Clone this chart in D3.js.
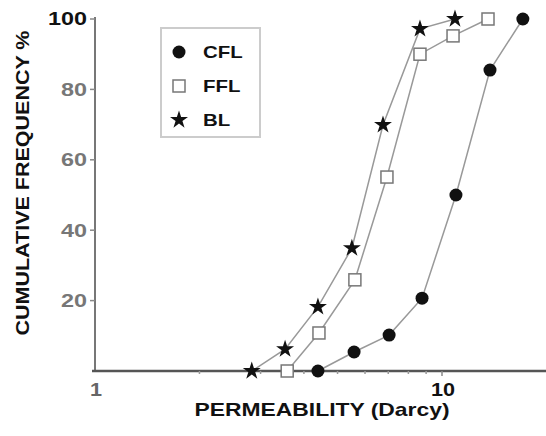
<!DOCTYPE html>
<html>
<head>
<meta charset="utf-8">
<script src="https://cdn.jsdelivr.net/npm/d3@7"></script>
<style>
  html, body { margin: 0; padding: 0; background: #fff; }
  text { font-family: "Liberation Sans", Arial, sans-serif; font-weight: bold; }
</style>
</head>
<body>
<div id="vis"></div>
<script>
'use strict'

// permeability (Darcy) and cumulative frequency %
const cflX = [4.39, 5.58, 7.04, 8.76, 10.97, 13.75, 17.1];
const cflY = [0, 5.4, 10.2, 20.7, 50, 85.5, 100];
const fflX = [3.58, 4.42, 5.61, 6.94, 8.64, 10.76, 13.57];
const fflY = [0, 10.8, 25.9, 55.1, 90, 95.2, 100];
const blX = [2.83, 3.53, 4.39, 5.5, 6.76, 8.64, 10.9];
const blY = [0, 6.2, 18.2, 34.9, 69.9, 97.2, 100];

const yTicks = [20, 40, 60, 80, 100];
const xTicks = [1, 10];
const xMinor = [2, 3, 4, 5, 6, 7, 8, 9];
const legendNames = ["CFL", "FFL", "BL"];

const width = 546, height = 436;

const svg = d3.select('#vis').append('svg')
  .attr('width', width)
  .attr('height', height);

// the original lettering is a wide grotesque, so stretch the text sideways
function stretch(sel, factor) {
  sel.each(function () {
    const w = this.getComputedTextLength();
    d3.select(this)
      .attr('textLength', w * factor)
      .attr('lengthAdjust', 'spacingAndGlyphs');
  });
}

////////////////////////////////////////
////////////// Scales //////////////////
////////////////////////////////////////

const x = d3.scaleLog().domain([1, 20]).range([95, 95 + 347 * Math.log10(20)]);
const y = d3.scaleLinear().domain([0, 100]).range([371, 19]);

////////////////////////////////////////
////////////// Axes ////////////////////
////////////////////////////////////////

// y axis
svg.append('line')
  .attr('x1', x(1)).attr('x2', x(1))
  .attr('y1', y(100) - 2).attr('y2', y(0))
  .attr('stroke', '#777').attr('stroke-width', 2);

const yAxis = svg.append('g').selectAll('g')
  .data(yTicks)
  .join('g')
  .attr('transform', d => `translate(0,${y(d)})`);

yAxis.append('line')
  .attr('x1', x(1) - 5).attr('x2', x(1))
  .attr('stroke', '#888').attr('stroke-width', 1.5);

yAxis.append('text')
  .attr('x', x(1) - 8)
  .attr('dy', '0.36em')
  .attr('text-anchor', 'end')
  .attr('font-size', 18)
  .attr('fill', d => d === 100 ? '#111' : '#777')
  .text(d => d)
  .call(stretch, 1.3);

// x axis
svg.append('line')
  .attr('x1', x(1) - 3).attr('x2', x(20))
  .attr('y1', y(0)).attr('y2', y(0))
  .attr('stroke', '#555').attr('stroke-width', 2.5);

svg.append('g').selectAll('line')
  .data(xMinor)
  .join('line')
  .attr('x1', d => x(d)).attr('x2', d => x(d))
  .attr('y1', y(0)).attr('y2', y(0) + 3)
  .attr('stroke', '#999').attr('stroke-width', 1.5);

svg.append('line')
  .attr('x1', x(10)).attr('x2', x(10))
  .attr('y1', y(0)).attr('y2', y(0) + 5)
  .attr('stroke', '#888').attr('stroke-width', 1.5);

svg.append('g').selectAll('text')
  .data(xTicks)
  .join('text')
  .attr('x', d => x(d) + 1)
  .attr('y', y(0) + 25)
  .attr('text-anchor', 'middle')
  .attr('font-size', 18)
  .attr('fill', d => d === 1 ? '#666' : '#111')
  .text(d => d)
  .call(stretch, 1.2);

// titles
svg.append('text')
  .attr('x', 322)
  .attr('y', 416)
  .attr('text-anchor', 'middle')
  .attr('font-size', 19)
  .attr('fill', '#111')
  .attr('textLength', 255)
  .attr('lengthAdjust', 'spacingAndGlyphs')
  .text('PERMEABILITY  (Darcy)');

svg.append('text')
  .attr('transform', `translate(29,183) rotate(-90)`)
  .attr('text-anchor', 'middle')
  .attr('font-size', 19)
  .attr('fill', '#111')
  .attr('textLength', 305)
  .attr('lengthAdjust', 'spacingAndGlyphs')
  .text('CUMULATIVE FREQUENCY %');

////////////////////////////////////////
////////////// Series //////////////////
////////////////////////////////////////

const series = [
  { name: 'CFL', xs: cflX, ys: cflY, mark: 'circle' },
  { name: 'FFL', xs: fflX, ys: fflY, mark: 'square' },
  { name: 'BL', xs: blX, ys: blY, mark: 'star' }
];

const line = d3.line()
  .x(d => x(d[0]))
  .y(d => y(d[1]));

const star = d3.symbol().type(d3.symbolStar).size(100);

function drawMark(g, mark) {
  if (mark === 'circle') {
    g.append('circle').attr('r', 6.5).attr('fill', '#111');
  } else if (mark === 'square') {
    g.append('rect')
      .attr('x', -6).attr('y', -6).attr('width', 12).attr('height', 12)
      .attr('fill', '#fff').attr('stroke', '#777').attr('stroke-width', 1.5);
  } else {
    g.append('path').attr('d', star()).attr('fill', '#111');
  }
}

series.forEach(s => {
  const pts = s.xs.map((v, i) => [v, s.ys[i]]);

  svg.append('path')
    .datum(pts)
    .attr('fill', 'none')
    .attr('stroke', '#999')
    .attr('stroke-width', 1.5)
    .attr('d', line);

  svg.append('g').selectAll('g')
    .data(pts)
    .join('g')
    .attr('transform', d => `translate(${x(d[0])},${y(d[1])})`)
    .each(function () { drawMark(d3.select(this), s.mark); });
});

////////////////////////////////////////
////////////// Legend //////////////////
////////////////////////////////////////

const legend = svg.append('g');

legend.append('rect')
  .attr('x', 161).attr('y', 28)
  .attr('width', 99).attr('height', 109)
  .attr('fill', '#fff')
  .attr('stroke', '#ccc')
  .attr('stroke-width', 2);

const items = legend.selectAll('g')
  .data(series)
  .join('g')
  .attr('transform', (d, i) => `translate(179,${52 + i * 34})`);

items.each(function (d) { drawMark(d3.select(this), d.mark); });

items.append('text')
  .attr('x', 24)
  .attr('dy', '0.36em')
  .attr('font-size', 17)
  .attr('fill', '#111')
  .text((d, i) => legendNames[i])
  .call(stretch, 1.2);
</script>
</body>
</html>
